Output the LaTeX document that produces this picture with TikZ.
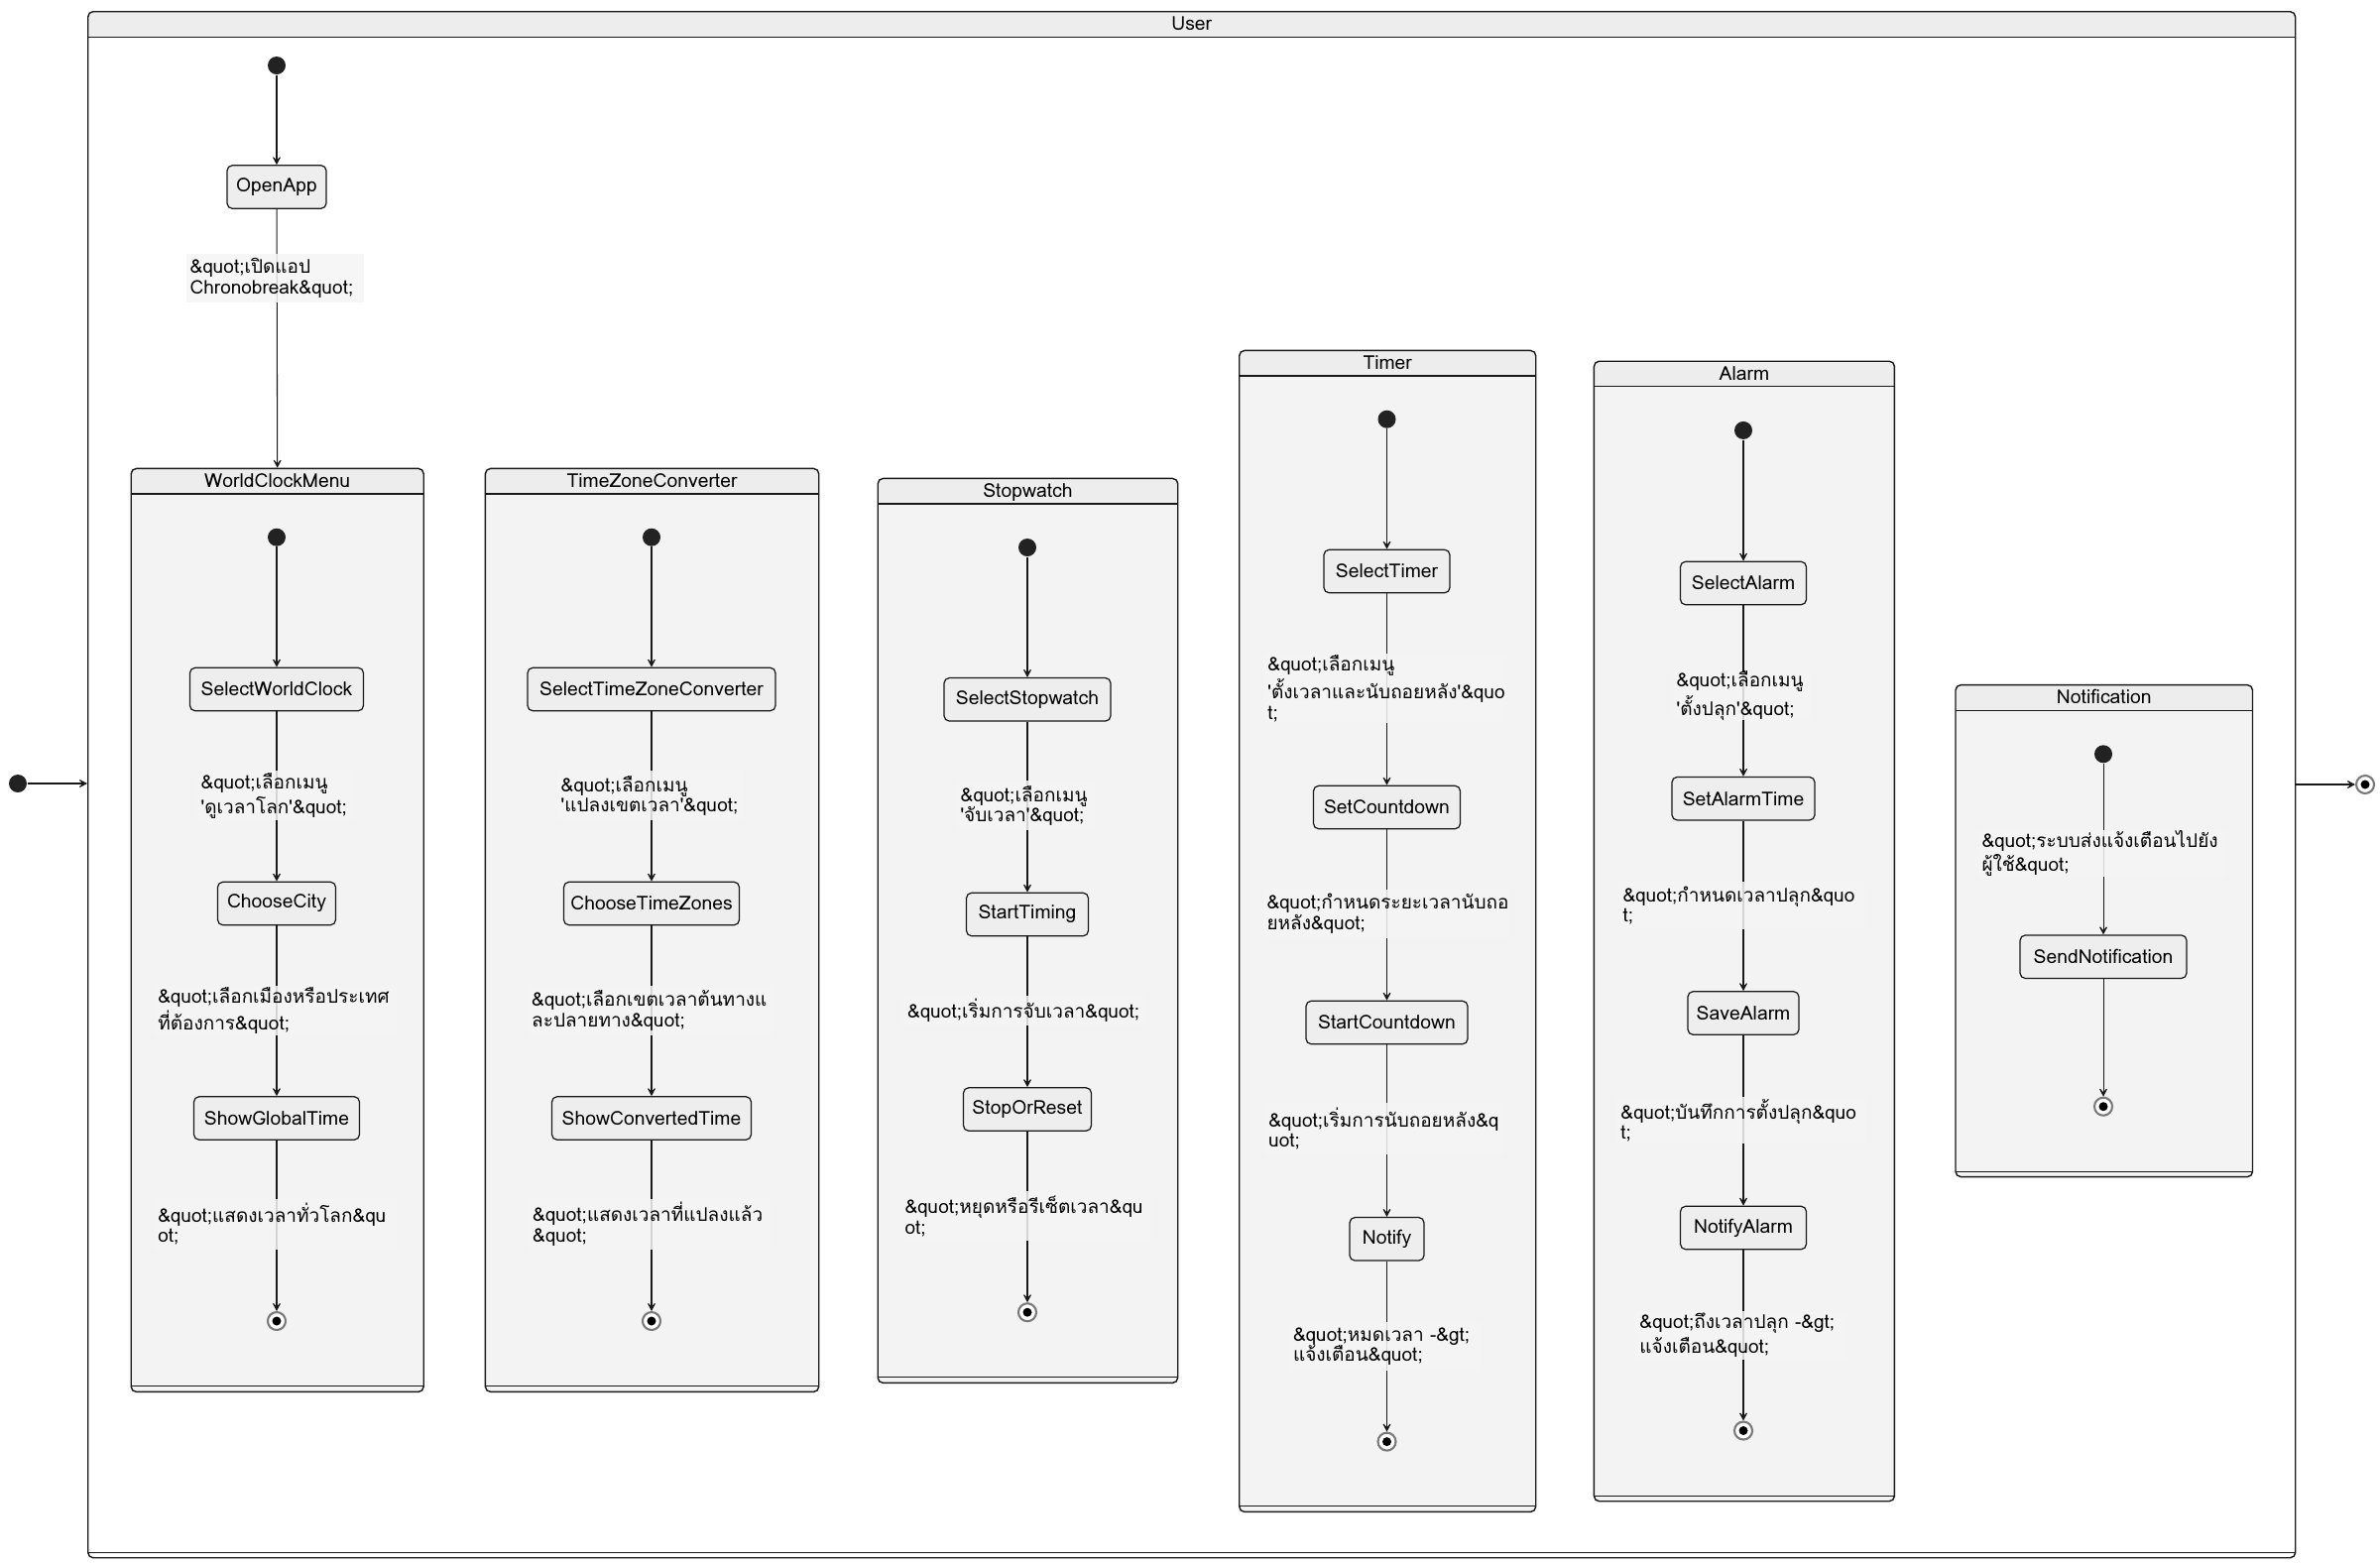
\documentclass[tikz,border=0pt]{standalone}
\usepackage{fontspec}
\setmainfont{Loma}[Script=Thai,Ligatures=TeXOff]
\usepackage{tikz}
\usetikzlibrary{arrows.meta,calc}
\newdimen\pxdim
\pxdim=0.01cm
\definecolor{linec}{HTML}{181818}
\definecolor{compfill}{HTML}{F3F3F3}
\definecolor{headfill}{HTML}{EDEDED}
\definecolor{statefill}{HTML}{EEEEEE}
\definecolor{labelfill}{HTML}{F5F5F5}
\definecolor{dotc}{HTML}{222222}
\definecolor{ringc}{HTML}{7A7A7A}
\tikzstyle{statebox}=[
  draw=linec,
  fill=statefill,
  line width=0.35pt,
  rounded corners=1.5pt,
  minimum height=43.5\pxdim,
  inner sep=0pt,
  font={\fontsize{5.5}{6.5}\selectfont},
]
\tikzstyle{composite}=[
  draw=linec,
  fill=compfill,
  line width=0.4pt,
  rounded corners=1.5pt,
  anchor=north west,
  inner sep=0pt,
  path picture={
    \fill[headfill, sharp corners] (path picture bounding box.north west)
      rectangle ([yshift=-25.5\pxdim]path picture bounding box.north east);
    \draw[linec, line width=0.35pt, sharp corners]
      ([yshift=-25.5\pxdim]path picture bounding box.north west)
      -- ([yshift=-25.5\pxdim]path picture bounding box.north east);
    \draw[linec, line width=0.3pt, sharp corners]
      ([yshift=5.5\pxdim]path picture bounding box.south west)
      -- ([yshift=5.5\pxdim]path picture bounding box.south east);
  },
]
\tikzstyle{ctitle}=[
  anchor=center,
  yshift=-9.5\pxdim,
  inner sep=0pt,
  text height=1.5ex,
  text depth=0.4ex,
  font={\fontsize{5.5}{6.5}\selectfont},
]
\tikzstyle{trlabel}=[
  anchor=north west,
  fill=labelfill,
  fill opacity=0.85,
  text opacity=1,
  align=left,
  inner xsep=4\pxdim,
  inner ysep=0pt,
  font={\fontsize{5.4}{5.83}\selectfont},
]
\tikzstyle{startdot}=[
  circle,
  fill=dotc,
  minimum size=18\pxdim,
  inner sep=0pt,
]
\tikzstyle{enddot}=[
  circle,
  draw=ringc,
  fill=white,
  line width=0.6pt,
  minimum size=18\pxdim,
  inner sep=0pt,
  path picture={\fill[black] (path picture bounding box.center) circle (4.5\pxdim);},
]
\tikzstyle{arrow}=[
  color=linec,
  draw=linec,
  line width=0.3pt,
]
\tikzset{
  >={Stealth[length=3.4pt,width=3.6pt,inset=2.2pt]},
}

\begin{document}
\begin{tikzpicture}[x=0.01cm, y=-0.01cm]
  \useasboundingbox (0,0) rectangle (2400,1578);
  % composite states
  \node [composite, fill=white, minimum width=2226\pxdim, minimum height=1559\pxdim,
    label={[ctitle]north:User}] (user) at (88,11) {};
  \node [composite, minimum width=295\pxdim, minimum height=931\pxdim,
    label={[ctitle]north:WorldClockMenu}] (wcm) at (131.5,471.7) {};
  \node [composite, minimum width=336.3\pxdim, minimum height=931\pxdim,
    label={[ctitle]north:TimeZoneConverter}] (tzc) at (488.7,471.7) {};
  \node [composite, minimum width=302.5\pxdim, minimum height=912\pxdim,
    label={[ctitle]north:Stopwatch}] (sw) at (884.5,481.7) {};
  \node [composite, minimum width=299\pxdim, minimum height=1171\pxdim,
    label={[ctitle]north:Timer}] (timer) at (1249,352.7) {};
  \node [composite, minimum width=303\pxdim, minimum height=1149.5\pxdim,
    label={[ctitle]north:Alarm}] (alarm) at (1606.7,363.5) {};
  \node [composite, minimum width=299.5\pxdim, minimum height=496\pxdim,
    label={[ctitle]north:Notification}] (notif) at (1971.3,689.9) {};

  % top level
  \node [startdot] (ui) at (18,790) {};
  \node [enddot] (uf) at (2385,791) {};
  \node [startdot] (useri) at (279,66) {};
  \node [statebox, minimum width=100\pxdim] (openapp) at (279,188.5) {OpenApp};

  % WorldClockMenu
  \node [startdot] (wcmi) at (279,541.7) {};
  \node [statebox, minimum width=175\pxdim] (selworld) at (279,695) {SelectWorldClock};
  \node [statebox, minimum width=119\pxdim] (choosecity) at (279,911) {ChooseCity};
  \node [statebox, minimum width=167\pxdim] (showglobal) at (279,1127.5) {ShowGlobalTime};
  \node [enddot] (wcmf) at (279,1332) {};

  % TimeZoneConverter
  \node [startdot] (tzci) at (657,541.7) {};
  \node [statebox, minimum width=250\pxdim] (seltzc) at (657,695) {SelectTimeZoneConverter};
  \node [statebox, minimum width=177\pxdim] (choosetz) at (657,911) {ChooseTimeZones};
  \node [statebox, minimum width=201\pxdim] (showconv) at (657,1127.5) {ShowConvertedTime};
  \node [enddot] (tzcf) at (657,1332) {};

  % Stopwatch
  \node [startdot] (swi) at (1036,552) {};
  \node [statebox, minimum width=168\pxdim] (selsw) at (1036,705.3) {SelectStopwatch};
  \node [statebox, minimum width=123\pxdim] (starttiming) at (1036,922) {StartTiming};
  \node [statebox, minimum width=129\pxdim] (stopreset) at (1036,1118.5) {StopOrReset};
  \node [enddot] (swf) at (1036,1323.2) {};

  % Timer
  \node [startdot] (tmi) at (1398.5,422.7) {};
  \node [statebox, minimum width=127\pxdim] (seltimer) at (1398.5,576) {SelectTimer};
  \node [statebox, minimum width=148\pxdim] (setcd) at (1398.5,814) {SetCountdown};
  \node [statebox, minimum width=163\pxdim] (startcd) at (1398.5,1031) {StartCountdown};
  \node [statebox, minimum width=75\pxdim] (notify) at (1398.5,1249.3) {Notify};
  \node [enddot] (tmf) at (1398.5,1453.6) {};

  % Alarm
  \node [startdot] (ali) at (1758,433.9) {};
  \node [statebox, minimum width=127\pxdim] (selalarm) at (1758,588) {SelectAlarm};
  \node [statebox, minimum width=144\pxdim] (setalarm) at (1758,805.2) {SetAlarmTime};
  \node [statebox, minimum width=112\pxdim] (savealarm) at (1758,1021.5) {SaveAlarm};
  \node [statebox, minimum width=127\pxdim] (notifyalarm) at (1758,1238) {NotifyAlarm};
  \node [enddot] (alf) at (1758,1442.5) {};

  % Notification
  \node [startdot] (nti) at (2121,760.3) {};
  \node [statebox, minimum width=168\pxdim] (sendnotif) at (2121,964.7) {SendNotification};
  \node [enddot] (ntf) at (2121,1115.7) {};

  % transitions
  \draw [->,arrow] (ui) -- (ui -| user.west);
  \draw [->,arrow] (uf -| user.east) -- (uf);
  \draw [->,arrow] (useri) -- (openapp);
  \draw [->,arrow] (openapp) -- (wcm.north);
  \draw [->,arrow] (wcmi) -- (selworld);
  \draw [->,arrow] (selworld) -- (choosecity);
  \draw [->,arrow] (choosecity) -- (showglobal);
  \draw [->,arrow] (showglobal) -- (wcmf);
  \draw [->,arrow] (tzci) -- (seltzc);
  \draw [->,arrow] (seltzc) -- (choosetz);
  \draw [->,arrow] (choosetz) -- (showconv);
  \draw [->,arrow] (showconv) -- (tzcf);
  \draw [->,arrow] (swi) -- (selsw);
  \draw [->,arrow] (selsw) -- (starttiming);
  \draw [->,arrow] (starttiming) -- (stopreset);
  \draw [->,arrow] (stopreset) -- (swf);
  \draw [->,arrow] (tmi) -- (seltimer);
  \draw [->,arrow] (seltimer) -- (setcd);
  \draw [->,arrow] (setcd) -- (startcd);
  \draw [->,arrow] (startcd) -- (notify);
  \draw [->,arrow] (notify) -- (tmf);
  \draw [->,arrow] (ali) -- (selalarm);
  \draw [->,arrow] (selalarm) -- (setalarm);
  \draw [->,arrow] (setalarm) -- (savealarm);
  \draw [->,arrow] (savealarm) -- (notifyalarm);
  \draw [->,arrow] (notifyalarm) -- (alf);
  \draw [->,arrow] (nti) -- (sendnotif);
  \draw [->,arrow] (sendnotif) -- (ntf);

  % transition labels
  \node [trlabel, text width=171\pxdim, minimum height=49\pxdim] (lopen) at (187,255)
    {\&quot;เปิดแอป\\Chronobreak\&quot;};
  \node [trlabel, text width=150\pxdim, minimum height=50\pxdim] (lwcm1) at (198,776.7)
    {\&quot;เลือกเมนู\\'ดูเวลาโลก'\&quot;};
  \node [trlabel, text width=237\pxdim, minimum height=50\pxdim] (lwcm2) at (154.6,993)
    {\&quot;เลือกเมืองหรือประเทศ\\ที่ต้องการ\&quot;};
  \node [trlabel, text width=237\pxdim, minimum height=51\pxdim] (lwcm3) at (154.6,1208)
    {\&quot;แสดงเวลาทั่วโลก\&qu\\ot;};
  \node [trlabel, text width=180\pxdim, minimum height=50\pxdim] (ltzc1) at (561,776.7)
    {\&quot;เลือกเมนู\\'แปลงเขตเวลา'\&quot;};
  \node [trlabel, text width=240\pxdim, minimum height=50\pxdim] (ltzc2) at (531.5,993)
    {\&quot;เลือกเขตเวลาต้นทางแ\\ละปลายทาง\&quot;};
  \node [trlabel, text width=236\pxdim, minimum height=51\pxdim] (ltzc3) at (532.4,1208)
    {\&quot;แสดงเวลาที่แปลงแล้ว\\\&quot;};
  \node [trlabel, text width=131\pxdim, minimum height=50\pxdim] (lsw1) at (963.9,786.7)
    {\&quot;เลือกเมนู\\'จับเวลา'\&quot;};
  \node [trlabel, text width=237\pxdim, minimum height=29.5\pxdim] (lsw2) at (910.5,1003.4)
    {\&quot;เริ่มการจับเวลา\&quot;};
  \node [trlabel, text width=244\pxdim, minimum height=50\pxdim] (lsw3) at (907.8,1200.6)
    {\&quot;หยุดหรือรีเซ็ตเวลา\&qu\\ot;};
  \node [trlabel, text width=237\pxdim, minimum height=70\pxdim] (ltm1) at (1273.7,658.3)
    {\&quot;เลือกเมนู\\'ตั้งเวลาและนับถอยหลัง'\&quo\\t;};
  \node [trlabel, text width=240\pxdim, minimum height=49.3\pxdim] (ltm2) at (1272.8,896)
    {\&quot;กำหนดระยะเวลานับถอ\\ยหลัง\&quot;};
  \node [trlabel, text width=234\pxdim, minimum height=51.6\pxdim] (ltm3) at (1274.6,1111.7)
    {\&quot;เริ่มการนับถอยหลัง\&q\\uot;};
  \node [trlabel, text width=186\pxdim, minimum height=49\pxdim] (ltm4) at (1299.3,1332.4)
    {\&quot;หมดเวลา -\&gt;\\แจ้งเตือน\&quot;};
  \node [trlabel, text width=131\pxdim, minimum height=46\pxdim] (lal1) at (1686,676)
    {\&quot;เลือกเมนู\\'ตั้งปลุก'\&quot;};
  \node [trlabel, text width=240\pxdim, minimum height=48.5\pxdim] (lal2) at (1631.8,888)
    {\&quot;กำหนดเวลาปลุก\&quo\\t;};
  \node [trlabel, text width=244\pxdim, minimum height=47\pxdim] (lal3) at (1629.7,1105.7)
    {\&quot;บันทึกการตั้งปลุก\&quo\\t;};
  \node [trlabel, text width=206\pxdim, minimum height=49\pxdim] (lal4) at (1648.7,1321)
    {\&quot;ถึงเวลาปลุก -\&gt;\\แจ้งเตือน\&quot;};
  \node [trlabel, text width=242\pxdim, minimum height=43\pxdim] (lnt1) at (1993.8,836.5)
    {\&quot;ระบบส่งแจ้งเตือนไปยัง\\ผู้ใช้\&quot;};
\end{tikzpicture}
\end{document}
